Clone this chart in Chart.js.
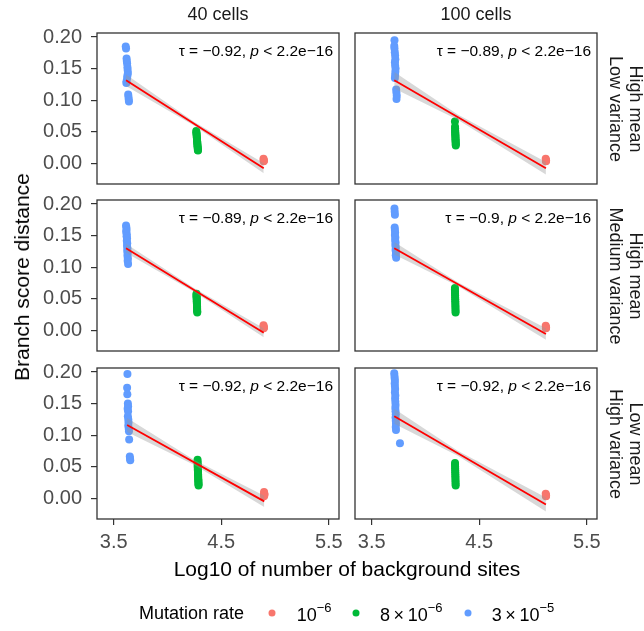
<!DOCTYPE html>
<html>
<head>
<meta charset="utf-8">
<script src="https://cdn.jsdelivr.net/npm/chart.js@4.4.0/dist/chart.umd.min.js"></script>
<style>
body { margin: 0; background: #fff; width: 644px; height: 631px; position: relative; overflow: hidden;
       font-family: "Liberation Sans", Arial, sans-serif; }
canvas { position: absolute; }
.lab { position: absolute; white-space: nowrap; color: #1a1a1a; transform: translate(-50%, -50%); }
.strip { font-size: 18px; }
.rstrip { font-size: 18px; line-height: 20px; text-align: center; transform: translate(-50%, -50%) rotate(90deg); }
.title { font-size: 21px; color: #000; }
.leg { position: absolute; white-space: nowrap; font-size: 18px; color: #000; transform: translateY(-50%); }
.leg sup { font-size: 13px; position: relative; top: -2px; }
.dot { position: absolute; width: 7px; height: 7px; border-radius: 50%; transform: translate(-50%, -50%); }
</style>
</head>
<body>
<script>
// axis setup
const yTicks = [0, 0.05, 0.10, 0.15, 0.20];
const xTicks = [3.5, 4.5, 5.5];
const colLabels = ['40 cells', '100 cells'];
const rowLabels = [['High mean', 'Low variance'], ['High mean', 'Medium variance'], ['Low mean', 'High variance']];
const tauLabels = ['\u22120.92', '\u22120.89', '\u22120.89', '\u22120.9', '\u22120.92', '\u22120.92'];
const rateColors = ['#F8766D', '#00BA38', '#619CFF'];

// panel 1: 40 cells, high mean / low variance
const p1_blue = [[3.612,0.185],[3.615,0.182],[3.62,0.166],[3.622,0.162],[3.625,0.158],[3.628,0.152],[3.63,0.148],[3.632,0.143],[3.628,0.139],[3.625,0.135],[3.62,0.13],[3.618,0.127],[3.635,0.109],[3.638,0.105],[3.64,0.101],[3.642,0.098]];
const p1_green = [[4.268,0.051],[4.269,0.049],[4.27,0.047],[4.271,0.045],[4.272,0.043],[4.273,0.041],[4.274,0.039],[4.275,0.037],[4.276,0.035],[4.277,0.033],[4.278,0.031],[4.279,0.029],[4.28,0.027],[4.281,0.025],[4.282,0.023],[4.283,0.021],[4.284,0.02]];
const p1_red = [[4.893,0.007],[4.895,0.005],[4.897,0.004],[4.895,0.003]];
const p1_fit_x = [3.615, 4.895];
const p1_fit_y = [0.1315, -0.008];
const p1_band_x = [3.615, 4.25, 4.895];
const p1_band_lo = [0.1225, 0.0593, -0.016];
const p1_band_hi = [0.1405, 0.0653, 0.0];

// panel 2: 100 cells, high mean / low variance
const p2_blue = [[3.712,0.195],[3.71,0.186],[3.712,0.182],[3.715,0.176],[3.718,0.171],[3.72,0.165],[3.716,0.16],[3.718,0.155],[3.722,0.15],[3.72,0.145],[3.718,0.14],[3.716,0.135],[3.728,0.117],[3.73,0.112],[3.733,0.107],[3.731,0.102]];
const p2_green = [[4.274,0.066],[4.275,0.058],[4.276,0.055],[4.276,0.052],[4.277,0.05],[4.277,0.048],[4.278,0.046],[4.278,0.044],[4.279,0.042],[4.279,0.04],[4.28,0.038],[4.28,0.036],[4.281,0.034],[4.281,0.032],[4.282,0.03],[4.282,0.028]];
const p2_red = [[5.118,0.007],[5.12,0.005],[5.122,0.004],[5.12,0.003]];
const p2_fit_x = [3.71, 5.12];
const p2_fit_y = [0.1315, -0.008];
const p2_band_x = [3.71, 4.3, 5.12];
const p2_band_lo = [0.1185, 0.0691, -0.018];
const p2_band_hi = [0.1445, 0.0771, 0.002];

// panel 3: 40 cells, high mean / medium variance
const p3_blue = [[3.615,0.166],[3.618,0.163],[3.62,0.159],[3.616,0.156],[3.622,0.152],[3.62,0.149],[3.624,0.146],[3.622,0.142],[3.626,0.138],[3.624,0.134],[3.628,0.13],[3.626,0.126],[3.63,0.122],[3.628,0.118],[3.632,0.114],[3.63,0.11],[3.634,0.105]];
const p3_green = [[4.27,0.058],[4.27,0.056],[4.271,0.054],[4.271,0.052],[4.272,0.05],[4.272,0.048],[4.273,0.046],[4.273,0.044],[4.274,0.042],[4.274,0.04],[4.275,0.038],[4.275,0.036],[4.276,0.034],[4.276,0.032],[4.277,0.03],[4.277,0.028]];
const p3_red = [[4.893,0.008],[4.895,0.006],[4.897,0.004],[4.895,0.003]];
const p3_fit_x = [3.615, 4.895];
const p3_fit_y = [0.130, -0.004];
const p3_band_x = [3.615, 4.25, 4.895];
const p3_band_lo = [0.123, 0.0605, -0.011];
const p3_band_hi = [0.137, 0.0665, 0.003];

// panel 4: 100 cells, high mean / medium variance
const p4_blue = [[3.712,0.193],[3.714,0.188],[3.716,0.183],[3.714,0.163],[3.716,0.159],[3.718,0.155],[3.716,0.151],[3.72,0.147],[3.718,0.143],[3.722,0.139],[3.72,0.135],[3.724,0.131],[3.722,0.127],[3.726,0.123],[3.724,0.119],[3.728,0.115]];
const p4_green = [[4.274,0.067],[4.274,0.064],[4.275,0.061],[4.275,0.058],[4.276,0.055],[4.276,0.052],[4.277,0.049],[4.277,0.046],[4.278,0.043],[4.278,0.04],[4.279,0.037],[4.279,0.034],[4.28,0.031],[4.28,0.028]];
const p4_red = [[5.118,0.007],[5.12,0.005],[5.122,0.004],[5.12,0.003]];
const p4_fit_x = [3.71, 5.12];
const p4_fit_y = [0.130, -0.006];
const p4_band_x = [3.71, 4.3, 5.12];
const p4_band_lo = [0.120, 0.0701, -0.015];
const p4_band_hi = [0.140, 0.0761, 0.003];

// panel 5: 40 cells, low mean / high variance
const p5_blue = [[3.628,0.197],[3.625,0.175],[3.627,0.165],[3.632,0.15],[3.634,0.146],[3.63,0.142],[3.634,0.138],[3.632,0.13],[3.636,0.125],[3.638,0.12],[3.636,0.115],[3.64,0.11],[3.642,0.106],[3.644,0.093],[3.65,0.066],[3.652,0.063],[3.654,0.06]];
const p5_green = [[4.28,0.061],[4.28,0.058],[4.281,0.055],[4.281,0.052],[4.282,0.05],[4.282,0.048],[4.283,0.046],[4.283,0.044],[4.284,0.042],[4.284,0.04],[4.285,0.038],[4.285,0.036],[4.286,0.034],[4.286,0.032],[4.287,0.03],[4.287,0.028],[4.288,0.026],[4.288,0.024],[4.289,0.022],[4.289,0.02]];
const p5_red = [[4.898,0.01],[4.9,0.008],[4.902,0.006],[4.9,0.005],[4.898,0.003]];
const p5_fit_x = [3.625, 4.9];
const p5_fit_y = [0.116, -0.005];
const p5_band_x = [3.625, 4.25, 4.9];
const p5_band_lo = [0.105, 0.0527, -0.014];
const p5_band_hi = [0.127, 0.0607, 0.004];

// panel 6: 100 cells, low mean / high variance
const p6_blue = [[3.71,0.198],[3.712,0.194],[3.714,0.19],[3.716,0.186],[3.714,0.182],[3.716,0.178],[3.718,0.173],[3.716,0.168],[3.72,0.163],[3.718,0.158],[3.72,0.153],[3.722,0.148],[3.72,0.143],[3.722,0.138],[3.724,0.133],[3.722,0.128],[3.724,0.123],[3.726,0.118],[3.724,0.113],[3.726,0.108],[3.763,0.087]];
const p6_green = [[4.275,0.056],[4.275,0.053],[4.276,0.05],[4.276,0.047],[4.277,0.044],[4.277,0.041],[4.278,0.038],[4.278,0.035],[4.279,0.032],[4.279,0.029],[4.28,0.026],[4.28,0.023],[4.281,0.02]];
const p6_red = [[5.118,0.007],[5.12,0.005],[5.122,0.004],[5.12,0.003]];
const p6_fit_x = [3.71, 5.12];
const p6_fit_y = [0.130, -0.010];
const p6_band_x = [3.71, 4.3, 5.12];
const p6_band_lo = [0.118, 0.0674, -0.021];
const p6_band_hi = [0.142, 0.0754, 0.001];

const panels = [
    [p1_red, p1_green, p1_blue, p1_fit_x, p1_fit_y, p1_band_x, p1_band_lo, p1_band_hi],
    [p2_red, p2_green, p2_blue, p2_fit_x, p2_fit_y, p2_band_x, p2_band_lo, p2_band_hi],
    [p3_red, p3_green, p3_blue, p3_fit_x, p3_fit_y, p3_band_x, p3_band_lo, p3_band_hi],
    [p4_red, p4_green, p4_blue, p4_fit_x, p4_fit_y, p4_band_x, p4_band_lo, p4_band_hi],
    [p5_red, p5_green, p5_blue, p5_fit_x, p5_fit_y, p5_band_x, p5_band_lo, p5_band_hi],
    [p6_red, p6_green, p6_blue, p6_fit_x, p6_fit_y, p6_band_x, p6_band_lo, p6_band_hi],
];

// layout
const FONT = '"Liberation Sans", Arial, sans-serif';
const X_MIN = 3.345, X_MAX = 5.595;
const Y_MIN = -0.033, Y_MAX = 0.2065;
const colLeft = [97, 355];
const rowTop = [33, 200, 368];
const PW = 242, PH = 151, PAD = 32, YAXIS_W = 60, XAXIS_H = 40;

const panelDecor = {
    id: 'panelDecor',
    afterDraw(chart, args, opts){
        const a = chart.chartArea;
        const ctx = chart.ctx;
        ctx.save();
        const p1 = '\u03C4 = ' + opts.tau + ', ';
        const p3 = ' < 2.2e\u221216';
        ctx.font = '15.5px ' + FONT;
        const w1 = ctx.measureText(p1).width;
        const w3 = ctx.measureText(p3).width;
        ctx.font = 'italic 15.5px ' + FONT;
        const w2 = ctx.measureText('p').width;
        let x = a.right - 6 - (w1 + w2 + w3);
        const y = a.top + 19;
        ctx.fillStyle = '#000';
        ctx.textBaseline = 'middle';
        ctx.textAlign = 'left';
        ctx.font = '15.5px ' + FONT;
        ctx.fillText(p1, x, y);
        ctx.font = 'italic 15.5px ' + FONT;
        ctx.fillText('p', x + w1, y);
        ctx.font = '15.5px ' + FONT;
        ctx.fillText(p3, x + w1 + w2, y);

        ctx.strokeStyle = '#333333';
        ctx.lineWidth = 1.3;
        ctx.strokeRect(a.left, a.top, a.right - a.left, a.bottom - a.top);
        ctx.restore();
    }
};

function to_points(xs, ys){
    return xs.map((x, i) => ({x: x, y: ys[i]}));
}

function make_panel(idx){
    const row = Math.floor(idx / 2);
    const col = idx % 2;
    const showY = col == 0;
    const showX = row == 2;
    const d = panels[idx];

    const canvas = document.createElement('canvas');
    const w = PAD * 2 + PW + (showY ? YAXIS_W : 0);
    const h = PAD * 2 + PH + (showX ? XAXIS_H : 0);
    canvas.setAttribute('width', w);
    canvas.setAttribute('height', h);
    canvas.style.left = (colLeft[col] - PAD - (showY ? YAXIS_W : 0)) + 'px';
    canvas.style.top = (rowTop[row] - PAD) + 'px';
    document.body.appendChild(canvas);

    const datasets = [];
    for (let g = 0; g < 3; g++){
        datasets.push({
            data: d[g].map(p => ({x: p[0], y: p[1]})),
            backgroundColor: rateColors[g],
            borderWidth: 0,
            pointRadius: 4,
            order: 3
        });
    }
    datasets.push({
        type: 'line',
        data: to_points(d[5], d[6]),
        borderWidth: 0,
        pointRadius: 0,
        fill: false,
        order: 2
    });
    datasets.push({
        type: 'line',
        data: to_points(d[5], d[7]),
        borderWidth: 0,
        pointRadius: 0,
        backgroundColor: 'rgba(153, 153, 153, 0.38)',
        fill: '-1',
        order: 2
    });
    datasets.push({
        type: 'line',
        data: to_points(d[3], d[4]),
        borderColor: '#FF0000',
        borderWidth: 1.8,
        pointRadius: 0,
        fill: false,
        tension: 0,
        order: 1
    });

    return new Chart(canvas.getContext('2d'), {
        type: 'scatter',
        data: {datasets: datasets},
        options: {
            responsive: false,
            animation: false,
            events: [],
            layout: {padding: PAD},
            plugins: {
                legend: {display: false},
                tooltip: {enabled: false},
                panelDecor: {tau: tauLabels[idx]}
            },
            scales: {
                x: {
                    type: 'linear',
                    min: X_MIN,
                    max: X_MAX,
                    display: showX,
                    afterBuildTicks: s => { s.ticks = xTicks.map(v => ({value: v})); },
                    afterFit: s => { s.height = showX ? XAXIS_H : 0; },
                    border: {display: false},
                    grid: {drawOnChartArea: false, drawTicks: true, tickLength: 6, color: '#333333', lineWidth: 1.2},
                    ticks: {
                        autoSkip: false, maxRotation: 0, padding: 5, color: '#4D4D4D',
                        font: {family: FONT, size: 20},
                        callback: v => v.toFixed(1)
                    }
                },
                y: {
                    type: 'linear',
                    min: Y_MIN,
                    max: Y_MAX,
                    display: showY,
                    afterBuildTicks: s => { s.ticks = yTicks.map(v => ({value: v})); },
                    afterFit: s => { s.width = showY ? YAXIS_W : 0; },
                    border: {display: false},
                    grid: {drawOnChartArea: false, drawTicks: true, tickLength: 6, color: '#333333', lineWidth: 1.2},
                    ticks: {
                        autoSkip: false, padding: 9, color: '#4D4D4D',
                        font: {family: FONT, size: 20},
                        callback: v => v.toFixed(2)
                    }
                }
            }
        },
        plugins: [panelDecor]
    });
}

function add_label(text, cls, x, y){
    const el = document.createElement('div');
    el.className = cls;
    el.innerHTML = text;
    el.style.left = x + 'px';
    el.style.top = y + 'px';
    document.body.appendChild(el);
    return el;
}

for (let i = 0; i < 6; i++){
    make_panel(i);
}

// strips
add_label(colLabels[0], 'lab strip', colLeft[0] + PW / 2, 14);
add_label(colLabels[1], 'lab strip', colLeft[1] + PW / 2, 14);
for (let r = 0; r < 3; r++){
    add_label(rowLabels[r].join('<br>'), 'lab rstrip', 626, rowTop[r] + PH / 2);
}

// axis titles
add_label('Branch score distance', 'lab title', 22, 277).style.transform = 'translate(-50%, -50%) rotate(-90deg)';
add_label('Log10 of number of background sites', 'lab title', 347, 569);

// legend
add_label('Mutation rate', 'leg', 139, 613);
const legDots = [271.7, 356, 467.7];
const legTexts = ['10<sup>\u22126</sup>', '8&thinsp;\u00D7&thinsp;10<sup>\u22126</sup>', '3&thinsp;\u00D7&thinsp;10<sup>\u22125</sup>'];
const legTextX = [296.7, 380, 491.7];
for (let g = 0; g < 3; g++){
    const dot = document.createElement('div');
    dot.className = 'dot';
    dot.style.left = legDots[g] + 'px';
    dot.style.top = '613px';
    dot.style.background = rateColors[g];
    document.body.appendChild(dot);
    add_label(legTexts[g], 'leg', legTextX[g], 614);
}
</script>
</body>
</html>
